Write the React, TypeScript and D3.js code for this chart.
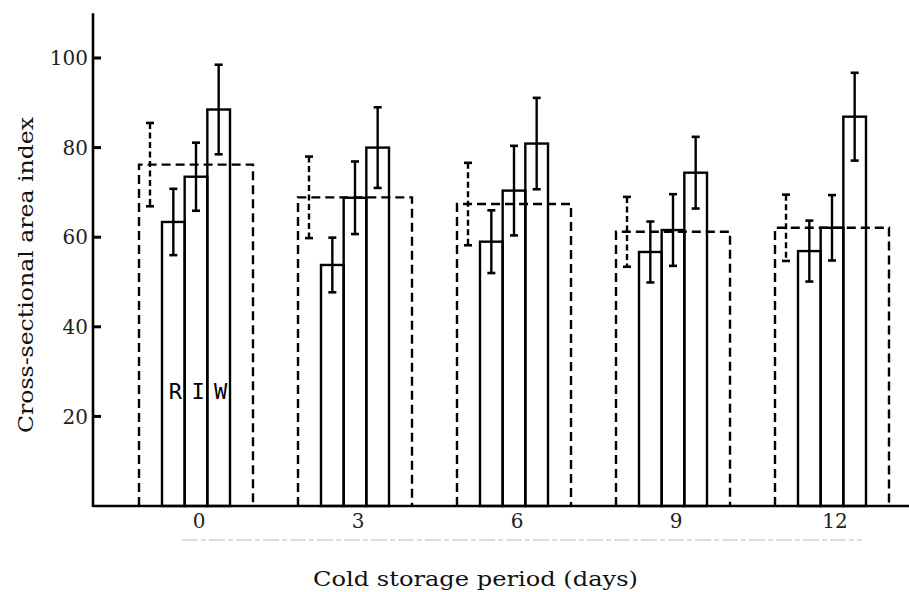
import * as d3 from "d3";

const days = ["0", "3", "6", "9", "12"];
const seriesKeys = ["R", "I", "W"];
// dashed outline (control) and the three solid bars per storage day
const controlMean = [76.2, 68.9, 67.4, 61.2, 62.1];
const controlErr = [9.3, 9.1, 9.2, 7.8, 7.4];
const rMean = [63.4, 53.8, 59.0, 56.7, 56.9];
const rErr = [7.4, 6.1, 7.0, 6.8, 6.8];
const iMean = [73.5, 68.8, 70.4, 61.6, 62.1];
const iErr = [7.6, 8.1, 10.0, 8.0, 7.3];
const wMean = [88.5, 80.0, 80.9, 74.4, 86.9];
const wErr = [10.0, 9.0, 10.2, 8.0, 9.8];
const yTicks = [20, 40, 60, 80, 100];

const width = 909;
const height = 592;
const serif = "'DejaVu Serif', 'Liberation Serif', serif";

export default function App() {
  const y = d3.scaleLinear().domain([0, 100]).range([506, 58]);
  const x = d3.scalePoint().domain(days).range([196, 832]);
  const inner = d3.scaleBand().domain(seriesKeys).range([-34, 34]);
  const axisX = 93;
  const boxHalf = 57;
  const ctrlErrDx = -46;
  const means = { R: rMean, I: iMean, W: wMean };
  const errs = { R: rErr, I: iErr, W: wErr };

  const errBar = (cx, m, e, dashed, key) => (
    <g key={key}>
      <line
        x1={cx}
        x2={cx}
        y1={y(m + e)}
        y2={y(m - e)}
        stroke="#000"
        strokeWidth={2.4}
        strokeDasharray={dashed ? "6,3.5" : null}
      />
      <line x1={cx - 4} x2={cx + 4} y1={y(m + e)} y2={y(m + e)} stroke="#000" strokeWidth={2.6} />
      <line x1={cx - 4} x2={cx + 4} y1={y(m - e)} y2={y(m - e)} stroke="#000" strokeWidth={2.6} />
    </g>
  );

  return (
    <svg
      width={width}
      height={height}
      style={{ position: "absolute", left: 0, top: 0, background: "#fff" }}
    >
      <rect width={width} height={height} fill="#fff" />
      {/* bars */}
      {days.map((d, i) => {
        const cx = x(d);
        return (
          <g key={d}>
            {seriesKeys.map((k) => (
              <rect
                key={k}
                x={cx + inner(k)}
                y={y(means[k][i])}
                width={inner.bandwidth()}
                height={y(0) - y(means[k][i])}
                fill="none"
                stroke="#000"
                strokeWidth={2.4}
              />
            ))}
            <path
              d={`M${cx - boxHalf},${y(0)}V${y(controlMean[i])}H${cx + boxHalf}V${y(0)}`}
              fill="none"
              stroke="#000"
              strokeWidth={2.4}
              strokeDasharray="9,5"
            />
            {errBar(cx + ctrlErrDx, controlMean[i], controlErr[i], true, "c")}
            {seriesKeys.map((k) =>
              errBar(cx + inner(k) + inner.bandwidth() / 2, means[k][i], errs[k][i], false, k)
            )}
          </g>
        );
      })}
      {seriesKeys.map((k) => (
        <text
          key={k}
          x={x(days[0]) + inner(k) + inner.bandwidth() / 2 + 2}
          y={399}
          textAnchor="middle"
          fontFamily="'DejaVu Sans Mono', monospace"
          fontSize={22}
          fill="#000"
        >
          {k}
        </text>
      ))}
      {/* axes */}
      <line x1={axisX} x2={axisX} y1={y(0) + 1} y2={y(110)} stroke="#000" strokeWidth={2.6} />
      <line x1={axisX} x2={width} y1={y(0)} y2={y(0)} stroke="#000" strokeWidth={2.6} />
      {yTicks.map((t) => (
        <g key={t}>
          <line x1={axisX} x2={axisX + 8} y1={y(t)} y2={y(t)} stroke="#000" strokeWidth={3} />
          <text
            x={axisX - 5}
            y={y(t)}
            dy="0.36em"
            textAnchor="end"
            fontFamily={serif}
            fontSize={20}
            fill="#222"
          >
            {t}
          </text>
        </g>
      ))}
      {days.map((d) => (
        <text
          key={d}
          x={x(d) + 3}
          y={528}
          textAnchor="middle"
          fontFamily={serif}
          fontSize={20}
          fill="#222"
        >
          {d}
        </text>
      ))}
      <line
        x1={182}
        x2={862}
        y1={540}
        y2={540}
        stroke="#bbb"
        strokeWidth={1}
        strokeDasharray="16,3,5,3"
      />
      <text
        x={313}
        y={586}
        fontFamily={serif}
        fontSize={21}
        textLength={325}
        lengthAdjust="spacingAndGlyphs"
        fill="#111"
      >
        Cold storage period (days)
      </text>
      <text
        transform={`translate(33,${433}) rotate(-90)`}
        fontFamily={serif}
        fontSize={21}
        textLength={316}
        lengthAdjust="spacingAndGlyphs"
        fill="#111"
      >
        Cross-sectional area index
      </text>
    </svg>
  );
}
